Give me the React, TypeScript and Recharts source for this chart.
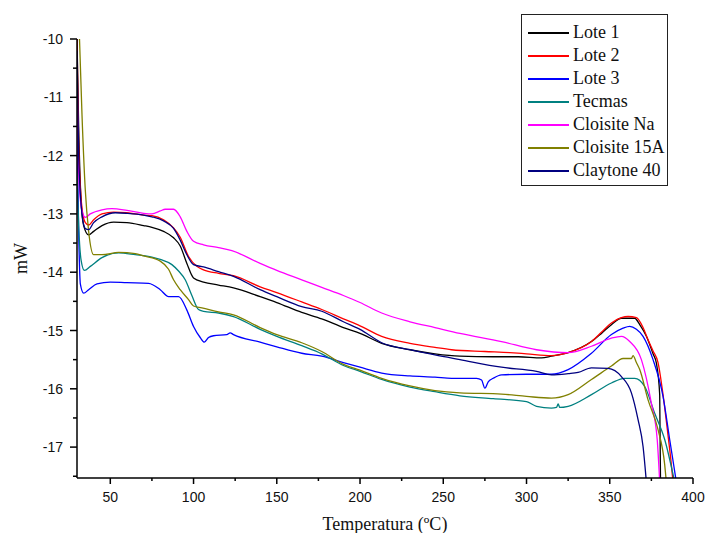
import React from "react";
import { LineChart, Line, XAxis, YAxis, Legend } from "recharts";

// temperatura (ºC), mW
const lote1: [number, number][] = [
  [30, -10], [31, -11.5], [32.5, -12.8], [34, -13.2], [37, -13.36], [40, -13.3], [45, -13.2],
  [52, -13.14], [60, -13.15], [70, -13.2], [75, -13.23], [82, -13.3], [88, -13.41], [92, -13.55],
  [96, -13.85], [100, -14.1], [106, -14.17], [115, -14.22], [124, -14.27], [140, -14.42],
  [150, -14.52], [165, -14.69], [177, -14.8], [190, -14.95], [200, -15.05], [213, -15.22],
  [230, -15.33], [245, -15.4], [260, -15.44], [280, -15.45], [295, -15.45], [309, -15.47],
  [315, -15.44], [325, -15.38], [339, -15.19], [345, -15.05], [351, -14.9], [357, -14.79],
  [365, -14.79], [368, -14.9], [372, -15.1], [376, -15.4], [378, -15.56], [380, -16.1], [380.5, -17.6],
];

const lote2: [number, number][] = [
  [30, -10], [31, -11.8], [33, -12.9], [35, -13.15], [37, -13.19], [40, -13.1], [45, -13.0],
  [52, -12.97], [60, -12.98], [70, -13.02], [75, -13.03], [82, -13.1], [88, -13.24], [92, -13.4],
  [97, -13.73], [102, -13.9], [106, -13.96], [115, -14.02], [124, -14.06], [140, -14.25],
  [150, -14.35], [165, -14.51], [177, -14.64], [190, -14.8], [200, -14.92], [213, -15.1],
  [230, -15.22], [245, -15.29], [255, -15.33], [275, -15.36], [290, -15.38], [300, -15.4],
  [315, -15.43], [325, -15.38], [339, -15.19], [345, -15.03], [351, -14.87], [357, -14.78],
  [361, -14.76], [366, -14.78], [370, -14.95], [373, -15.16], [376, -15.35], [379, -15.55],
  [382, -16.1], [385, -16.8], [387, -17.3], [388, -17.6],
];

const lote3: [number, number][] = [
  [30, -11.5], [31, -13.3], [32, -14.2], [34, -14.36], [37, -14.3], [42, -14.2], [50, -14.17],
  [60, -14.18], [73, -14.19], [80, -14.3], [85, -14.42], [91, -14.42], [96, -14.65], [100, -14.93],
  [104, -15.12], [106.5, -15.2], [109, -15.12], [112, -15.09], [120, -15.07], [122, -15.04],
  [124, -15.07], [140, -15.2], [150, -15.28], [165, -15.39], [177, -15.44], [190, -15.55],
  [200, -15.63], [213, -15.73], [230, -15.78], [245, -15.8], [255, -15.82], [270, -15.82],
  [273, -15.85], [275, -15.99], [277, -15.88], [280, -15.82], [285, -15.76], [300, -15.75],
  [315, -15.75], [325, -15.67], [339, -15.39], [351, -15.07], [358, -14.96], [362, -14.93],
  [366, -14.98], [370, -15.1], [376, -15.5], [382, -16.13], [386, -16.87], [390, -17.6],
];

const tecmas: [number, number][] = [
  [30, -12.3], [31, -13.2], [32.5, -13.8], [34.5, -13.97], [38, -13.9], [45, -13.75], [55, -13.67],
  [65, -13.7], [75, -13.74], [80, -13.78], [87, -13.87], [91, -13.98], [95, -14.13], [99, -14.4],
  [103, -14.64], [106, -14.67], [115, -14.7], [124, -14.76], [140, -14.98], [150, -15.1],
  [165, -15.26], [177, -15.4], [190, -15.6], [200, -15.7], [213, -15.84], [230, -15.97],
  [245, -16.05], [260, -16.12], [280, -16.17], [300, -16.22], [306, -16.3], [315, -16.33],
  [318, -16.32], [319, -16.26], [320, -16.32], [325, -16.3], [339, -16.1], [351, -15.9],
  [359, -15.82], [365, -15.82], [371, -15.96], [377, -16.42], [383, -16.87], [389, -17.6],
];

const cloisiteNa: [number, number][] = [
  [30, -10.8], [31, -12.3], [33, -12.95], [35, -13.06], [38, -13.0], [45, -12.93], [51, -12.91],
  [60, -12.94], [70, -12.99], [75, -13.0], [80, -12.95], [83, -12.92], [88, -12.92], [92, -13.05],
  [96, -13.3], [100, -13.47], [106, -13.53], [115, -13.58], [123, -13.63], [140, -13.85],
  [150, -13.97], [165, -14.13], [177, -14.26], [190, -14.4], [200, -14.52],
  [213, -14.7], [230, -14.85], [245, -14.95], [260, -15.05], [285, -15.19], [306, -15.33],
  [325, -15.38], [339, -15.27], [351, -15.13], [357, -15.1], [362, -15.19], [369, -15.5],
  [375, -16.25], [378.5, -16.87], [380, -17.6],
];

const cloisite15A: [number, number][] = [
  [31.5, -10], [33, -11.3], [35, -12.6], [37, -13.3], [40, -13.7], [45, -13.7], [55, -13.66],
  [65, -13.68], [70, -13.72], [80, -13.81], [85, -13.95], [88, -14.13], [92, -14.3], [97, -14.47],
  [100, -14.58], [105, -14.61], [115, -14.68], [124, -14.73], [140, -14.95], [150, -15.07],
  [165, -15.21], [177, -15.36], [190, -15.58], [200, -15.68], [213, -15.82], [230, -15.95],
  [245, -16.03], [260, -16.07], [285, -16.09], [300, -16.13], [315, -16.16], [325, -16.1],
  [339, -15.84], [351, -15.61], [358, -15.48], [363, -15.48], [364, -15.43], [366, -15.55],
  [368, -15.67], [373, -16.19], [379, -16.7], [383, -17.3], [384, -17.6],
];

const claytone40: [number, number][] = [
  [30, -10.2], [31, -12.0], [33, -13.0], [35, -13.25], [37, -13.27], [40, -13.15], [45, -13.05],
  [53, -12.98], [60, -12.99], [70, -13.02], [75, -13.05], [82, -13.12], [88, -13.25], [92, -13.45],
  [96, -13.7], [100, -13.87], [106, -13.91], [115, -13.99], [124, -14.07], [140, -14.3],
  [150, -14.42], [165, -14.59], [177, -14.67], [190, -14.85], [200, -14.98], [213, -15.21],
  [230, -15.33], [245, -15.42], [260, -15.5], [285, -15.63], [306, -15.7], [315, -15.76],
  [325, -15.74], [331, -15.72], [339, -15.64], [349, -15.65], [357, -15.79], [363, -16.07],
  [367, -16.53], [370, -16.99], [372, -17.6],
];

const xMajorTicks = [50, 100, 150, 200, 250, 300, 350, 400];
const xMinorTicks = [75, 125, 175, 225, 275, 325, 375];
const yMajorTicks = [-17, -16, -15, -14, -13, -12, -11, -10];
const yMinorTicks = [-17.5, -16.5, -15.5, -14.5, -13.5, -12.5, -11.5, -10.5];

const series = [
  { name: "Lote 1", points: lote1, color: "#000000" },
  { name: "Lote 2", points: lote2, color: "#ff0000" },
  { name: "Lote 3", points: lote3, color: "#0000ff" },
  { name: "Tecmas", points: tecmas, color: "#008080" },
  { name: "Cloisite Na", points: cloisiteNa, color: "#ff00ff" },
  { name: "Cloisite 15A", points: cloisite15A, color: "#808000" },
  { name: "Claytone 40", points: claytone40, color: "#000080" },
];

const AXIS_X = 77;
const AXIS_Y = 478;
const sans = "'Liberation Sans', Arial, sans-serif";
const serif = "'Liberation Serif', 'Times New Roman', serif";

function XTick(props: any) {
  const { x, payload } = props;
  const major = xMajorTicks.includes(payload.value);
  return (
    <g>
      <line x1={x} x2={x} y1={AXIS_Y} y2={AXIS_Y + (major ? 6 : 3)} stroke="#000" strokeWidth={1.5} />
      {major && (
        <text x={x} y={AXIS_Y + 24} textAnchor="middle" fontSize={14} fontFamily={sans} fill="#111">
          {payload.value}
        </text>
      )}
    </g>
  );
}

function YTick(props: any) {
  const { y, payload } = props;
  const major = yMajorTicks.includes(payload.value);
  return (
    <g>
      <line x1={AXIS_X} x2={AXIS_X - (major ? 7 : 4)} y1={y} y2={y} stroke="#000" strokeWidth={1.5} />
      {major && (
        <text x={AXIS_X - 14} y={y + 5} textAnchor="end" fontSize={14} fontFamily={sans} fill="#111">
          {payload.value}
        </text>
      )}
    </g>
  );
}

// legend in the same order as the series
function LegendBox() {
  return (
    <div
      style={{
        border: "1px solid #222",
        width: 145,
        height: 164,
        boxSizing: "content-box",
        paddingTop: 6,
        background: "#fff",
      }}
    >
      {series.map((s) => (
        <div key={s.name} style={{ display: "flex", alignItems: "center", height: 23 }}>
          <span
            style={{
              display: "inline-block",
              marginLeft: 6,
              width: 41,
              height: 2,
              background: s.color,
              marginRight: 4,
            }}
          />
          <span style={{ fontFamily: serif, fontSize: 18, color: "#111", lineHeight: "23px" }}>{s.name}</span>
        </div>
      ))}
    </div>
  );
}

export default function App() {
  return (
    <div style={{ position: "absolute", left: 0, top: 0, background: "#fff" }}>
      <LineChart width={705} height={533} margin={{ top: 39, right: 12, left: 0, bottom: 0 }}>
        <XAxis
          type="number"
          dataKey="t"
          domain={[30, 400]}
          allowDataOverflow
          ticks={[...xMajorTicks, ...xMinorTicks].sort((a, b) => a - b)}
          interval={0}
          height={55}
          tick={<XTick />}
          tickLine={false}
          axisLine={{ stroke: "#000", strokeWidth: 1.5 }}
          label={{
            value: "Temperatura (ºC)",
            position: "insideBottom",
            offset: 3,
            style: { fontFamily: serif, fontSize: 18, fill: "#111" },
          }}
        />
        <YAxis
          type="number"
          domain={[-17.53, -10]}
          allowDataOverflow
          ticks={[...yMajorTicks, ...yMinorTicks].sort((a, b) => a - b)}
          interval={0}
          width={77}
          tick={<YTick />}
          tickLine={false}
          axisLine={{ stroke: "#000", strokeWidth: 1.5 }}
          label={{
            value: "mW",
            angle: -90,
            position: "insideLeft",
            offset: 21,
            style: { fontFamily: serif, fontSize: 18, fill: "#111", textAnchor: "middle" },
          }}
        />
        {series.map((s) => (
          <Line
            key={s.name}
            name={s.name}
            data={s.points.map(([t, v]) => ({ t, v }))}
            dataKey="v"
            type="monotone"
            stroke={s.color}
            strokeWidth={1.3}
            dot={false}
            activeDot={false}
            isAnimationActive={false}
          />
        ))}
        <Legend
          layout="vertical"
          align="center"
          verticalAlign="middle"
          content={<LegendBox />}
          wrapperStyle={{ left: 521, top: 14, width: 147, height: 171 }}
        />
      </LineChart>
    </div>
  );
}
